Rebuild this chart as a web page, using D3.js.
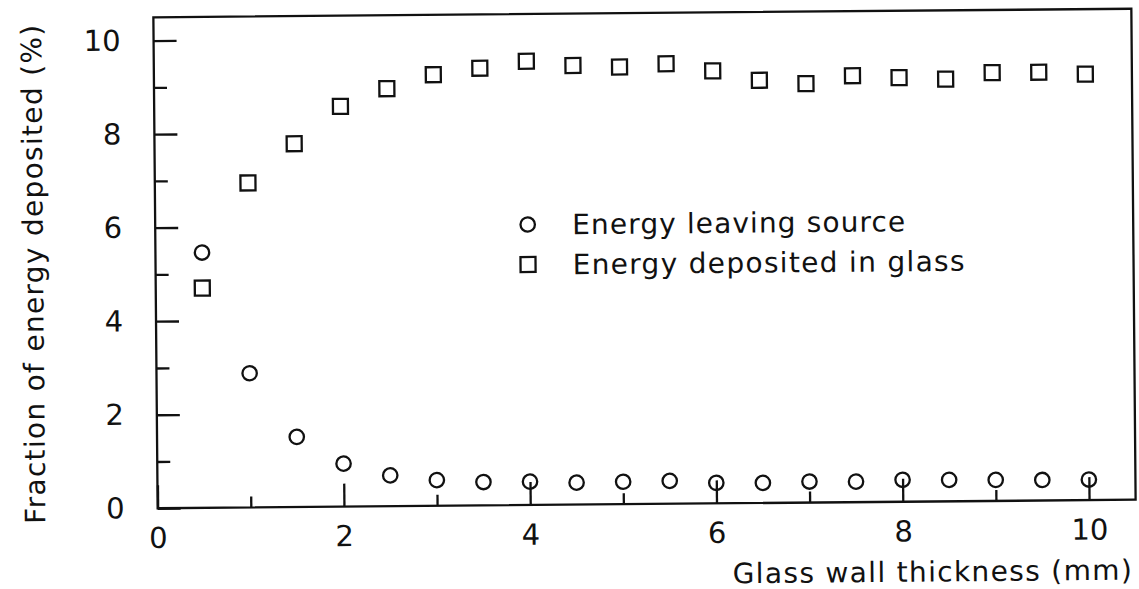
<!DOCTYPE html>
<html>
<head>
<meta charset="utf-8">
<script src="https://cdn.jsdelivr.net/npm/d3@7"></script>
<style>
  html, body { margin: 0; padding: 0; background: #fff; }
  svg { display: block; }
  text { font-family: "DejaVu Sans", "Noto Sans", sans-serif; fill: #111; }
</style>
</head>
<body>
<svg id="chart" width="1139" height="589"></svg>
<script>
// Glass wall thickness (mm)
const thickness = [0.5, 1, 1.5, 2, 2.5, 3, 3.5, 4, 4.5, 5, 5.5, 6, 6.5, 7, 7.5, 8, 8.5, 9, 9.5, 10];
// Energy leaving the source (%)
const leavingSource = [5.46, 2.87, 1.50, 0.92, 0.66, 0.55, 0.50, 0.50, 0.47, 0.48,
                       0.49, 0.44, 0.43, 0.45, 0.44, 0.47, 0.46, 0.45, 0.44, 0.44];
// Energy deposited in the glass (%)
const depositedGlass = [4.70, 6.94, 7.77, 8.56, 8.93, 9.22, 9.35, 9.49, 9.39, 9.35,
                        9.41, 9.25, 9.04, 8.96, 9.12, 9.07, 9.03, 9.16, 9.16, 9.11];

const xMajorTicks = [0, 2, 4, 6, 8, 10];
const xMinorTicks = [1, 3, 5, 7, 9];
const yMajorTicks = [0, 2, 4, 6, 8, 10];
const yMinorTicks = [1, 3, 5, 7, 9];

const legendLabels = ["Energy leaving source", "Energy deposited in glass"];
const xTitle = "Glass wall thickness (mm)";
const yTitle = "Fraction of energy deposited (%)";

const plot = { left: 155.5, right: 1133.5, top: 13, bottom: 504 };
const ink = "#111";
const lw = 2.3;

const svg = d3.select("#chart");
// the whole sheet sits at a slight tilt
const root = svg.append("g").attr("transform", "rotate(-0.5,645,259)");

const x = d3.scaleLinear().domain([0, 10.5]).range([plot.left, plot.right]);
const y = d3.scaleLinear().domain([0, 10.5]).range([plot.bottom, plot.top]);

// frame
root.append("rect")
  .attr("x", plot.left).attr("y", plot.top)
  .attr("width", plot.right - plot.left).attr("height", plot.bottom - plot.top)
  .attr("fill", "none").attr("stroke", ink).attr("stroke-width", lw);

function styleAxis(g) {
  g.select(".domain").remove();
  g.selectAll(".tick line").attr("stroke", ink).attr("stroke-width", lw);
  g.selectAll(".tick text").attr("fill", ink).style("font-size", "29px")
    .style("font-family", '"DejaVu Sans", sans-serif');
}

// x axis: major ticks with labels, minor ticks without
root.append("g")
  .attr("transform", `translate(0,${plot.bottom})`)
  .call(d3.axisBottom(x).tickValues(xMajorTicks).tickFormat(d3.format("d"))
    .tickSizeInner(-23).tickSizeOuter(0).tickPadding(19))
  .call(styleAxis);
root.append("g")
  .attr("transform", `translate(0,${plot.bottom})`)
  .call(d3.axisBottom(x).tickValues(xMinorTicks).tickFormat("")
    .tickSizeInner(-11).tickSizeOuter(0))
  .call(styleAxis);

// y axis
root.append("g")
  .attr("transform", `translate(${plot.left},0)`)
  .call(d3.axisLeft(y).tickValues(yMajorTicks).tickFormat(d3.format("d"))
    .tickSizeInner(-23).tickSizeOuter(0).tickPadding(33))
  .call(styleAxis);
root.append("g")
  .attr("transform", `translate(${plot.left},0)`)
  .call(d3.axisLeft(y).tickValues(yMinorTicks).tickFormat("")
    .tickSizeInner(-13).tickSizeOuter(0))
  .call(styleAxis);

// axis titles
root.append("text")
  .attr("x", 1129).attr("y", 584)
  .attr("text-anchor", "end")
  .attr("textLength", 399).attr("lengthAdjust", "spacing")
  .style("font-size", "28px")
  .text(xTitle);

root.append("text")
  .attr("transform", "translate(43,269) rotate(-90)")
  .attr("text-anchor", "middle")
  .attr("textLength", 499).attr("lengthAdjust", "spacing")
  .style("font-size", "28px")
  .text(yTitle);

// data markers
const circleR = 7.2;
const squareS = 15;

root.append("g").selectAll("circle")
  .data(thickness.map((t, i) => [t, leavingSource[i]]))
  .join("circle")
  .attr("cx", d => x(d[0])).attr("cy", d => y(d[1]))
  .attr("r", circleR)
  .attr("fill", "none").attr("stroke", ink).attr("stroke-width", lw);

root.append("g").selectAll("rect")
  .data(thickness.map((t, i) => [t, depositedGlass[i]]))
  .join("rect")
  .attr("x", d => x(d[0]) - squareS / 2).attr("y", d => y(d[1]) - squareS / 2)
  .attr("width", squareS).attr("height", squareS)
  .attr("fill", "none").attr("stroke", ink).attr("stroke-width", lw);

// legend
const legend = root.append("g");
const legendRows = [
  { label: legendLabels[0], shape: "circle", cy: 223.5, len: 333 },
  { label: legendLabels[1], shape: "square", cy: 263.5, len: 392 }
];
legendRows.forEach(row => {
  if (row.shape === "circle") {
    legend.append("circle").attr("cx", 528).attr("cy", row.cy).attr("r", circleR)
      .attr("fill", "none").attr("stroke", ink).attr("stroke-width", lw);
  } else {
    legend.append("rect").attr("x", 528 - squareS / 2).attr("y", row.cy - squareS / 2)
      .attr("width", squareS).attr("height", squareS)
      .attr("fill", "none").attr("stroke", ink).attr("stroke-width", lw);
  }
  legend.append("text")
    .attr("x", 572.5).attr("y", row.cy + 10)
    .attr("textLength", row.len).attr("lengthAdjust", "spacing")
    .style("font-size", "28px")
    .text(row.label);
});
</script>
</body>
</html>
